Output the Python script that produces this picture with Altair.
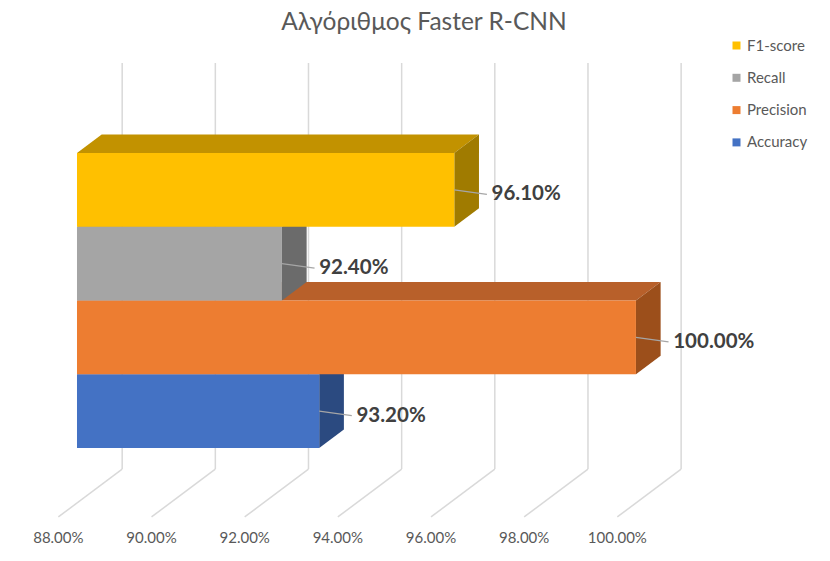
import altair as alt
import pandas as pd

# Series, bottom bar first
metrics = ["Accuracy", "Precision", "Recall", "F1-score"]
scores = [93.20, 100.00, 92.40, 96.10]
front_colors = ["#4472C4", "#ED7D31", "#A5A5A5", "#FFC000"]
top_colors = ["#2F5597", "#B8602A", "#7C7C7C", "#C29200"]
side_colors = ["#2B4A80", "#9C4F1B", "#6B6B6B", "#A07B00"]
legend_order = ["F1-score", "Recall", "Precision", "Accuracy"]
tick_values = [88, 90, 92, 94, 96, 98, 100]
tick_labels = ["88.00%", "90.00%", "92.00%", "94.00%", "96.00%", "98.00%", "100.00%"]
title_text = "Αλγόριθμος Faster R-CNN"

# 3-D projection constants (value axis in percentage points, category axis in bar heights)
BASE = 88.0
DEPTH_X, DEPTH_Y = 0.53, 0.25          # extrusion of each bar
WALL_X, WALL_Y0, WALL_Y1 = 0.97, -0.285, 5.22   # back wall
FLOOR_X, FLOOR_Y = -0.40, -0.935       # front edge of the floor
LABEL_DX, LABEL_DY = 0.8, -0.06
TICK_Y = -1.22

FONT = "Lato, Open Sans, sans-serif"
W, H, TOP = 830, 521, 40
x_scale = alt.Scale(domain=[86.347, 104.166], nice=False, zero=False)
y_scale = alt.Scale(domain=[-1.532, 5.532], nice=False, zero=False)

# back wall and floor grid
grid = pd.DataFrame({"t": tick_values, "label": tick_labels})
grid["wx"] = grid["t"] + WALL_X
grid["fx"] = grid["t"] + FLOOR_X
grid["y0"] = WALL_Y0
grid["y1"] = WALL_Y1
grid["fy"] = FLOOR_Y
grid["ty"] = TICK_Y

wall = alt.Chart(grid).mark_rule(color="#D9D9D9", strokeWidth=1.5).encode(
    x=alt.X("wx:Q", scale=x_scale, axis=None),
    y=alt.Y("y0:Q", scale=y_scale, axis=None),
    y2="y1:Q",
)
floor = alt.Chart(grid).mark_rule(color="#D9D9D9", strokeWidth=1.5).encode(
    x=alt.X("wx:Q", scale=x_scale, axis=None),
    y=alt.Y("y0:Q", scale=y_scale, axis=None),
    x2="fx:Q",
    y2="fy:Q",
)
ticks = alt.Chart(grid).mark_text(font=FONT, fontSize=15, color="#595959",
                                  align="center", baseline="middle").encode(
    x=alt.X("fx:Q", scale=x_scale, axis=None),
    y=alt.Y("ty:Q", scale=y_scale, axis=None),
    text="label:N",
)

# top and side faces of every bar: each face is an area polygon
# traced along the value axis (xv) between a lower (lo) and upper (hi) edge
face_layers = []
for i, (m, v) in enumerate(zip(metrics, scores)):
    top = pd.DataFrame({
        "xv": [BASE, BASE + DEPTH_X, v, v + DEPTH_X],
        "lo": [i + 1, i + 1, i + 1, i + 1 + DEPTH_Y],
        "hi": [i + 1, i + 1 + DEPTH_Y, i + 1 + DEPTH_Y, i + 1 + DEPTH_Y],
    })
    side = pd.DataFrame({
        "xv": [v, v + DEPTH_X],
        "lo": [i, i + DEPTH_Y],
        "hi": [i + 1, i + 1 + DEPTH_Y],
    })
    for df, col in ((top, top_colors[i]), (side, side_colors[i])):
        face_layers.append(
            alt.Chart(df).mark_area(color=col, opacity=1, interpolate="linear")
            .encode(
                x=alt.X("xv:Q", scale=x_scale, axis=None),
                y=alt.Y("lo:Q", scale=y_scale, axis=None, stack=None),
                y2="hi:Q",
            )
        )

# front faces carry the series colours and the legend
bars = pd.DataFrame({"metric": metrics, "score": scores,
                     "row": range(len(metrics))})
bars["base"] = BASE
bars["row1"] = bars["row"] + 1
bars["mid"] = bars["row"] + 0.5
bars["lx"] = bars["score"] + LABEL_DX
bars["lx0"] = bars["lx"] - 0.1
bars["ly"] = bars["mid"] + LABEL_DY
bars["text"] = [f"{s:.2f}%" for s in scores]

front = alt.Chart(bars).mark_rect().encode(
    x=alt.X("base:Q", scale=x_scale, axis=None),
    x2="score:Q",
    y=alt.Y("row:Q", scale=y_scale, axis=None),
    y2="row1:Q",
    color=alt.Color(
        "metric:N",
        scale=alt.Scale(domain=legend_order,
                        range=[front_colors[metrics.index(m)] for m in legend_order]),
        legend=alt.Legend(
            title=None, orient="none", legendX=729, legendY=-2,
            symbolType="square", symbolSize=64, symbolStrokeWidth=0,
            labelFont=FONT, labelFontSize=15, labelColor="#595959",
            labelOffset=3, rowPadding=16.3,
        ),
    ),
)

leaders = alt.Chart(bars).mark_rule(color="#A6A6A6", strokeWidth=1.2).encode(
    x=alt.X("score:Q", scale=x_scale, axis=None),
    y=alt.Y("mid:Q", scale=y_scale, axis=None),
    x2="lx0:Q",
    y2="ly:Q",
)
values = alt.Chart(bars).mark_text(font=FONT, fontSize=20.5, fontWeight="bold",
                                   color="#404040", align="left",
                                   baseline="middle").encode(
    x=alt.X("lx:Q", scale=x_scale, axis=None),
    y=alt.Y("ly:Q", scale=y_scale, axis=None),
    text="text:N",
)

chart = alt.layer(wall, floor, ticks, *face_layers, front, leaders, values).properties(
    width=W, height=H,
    title=alt.Title(title_text, font=FONT, fontSize=24.5, fontWeight="normal",
                    color="#595959", anchor="middle", dx=9, offset=3),
    padding={"left": 0, "right": 0, "top": TOP, "bottom": 0},
    autosize=alt.AutoSizeParams(type="none"),
).configure_view(stroke=None)

chart.save("out.html", embed_options={"renderer": "svg", "actions": False})
